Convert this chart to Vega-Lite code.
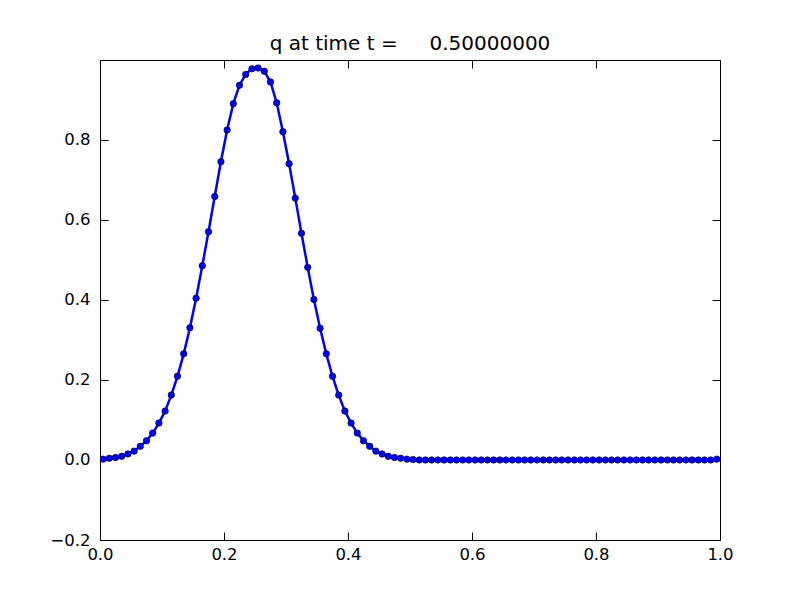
{
  "$schema": "https://vega.github.io/schema/vega-lite/v6.json",
  "width": 620,
  "height": 480,
  "autosize": "none",
  "padding": {"left": 100, "top": 60, "right": 80, "bottom": 60},
  "background": "white",
  "config": {
    "view": {"stroke": "black", "strokeWidth": 1},
    "font": "DejaVu Sans"
  },
  "title": {
    "text": "q at time t =\u00a0\u00a0\u00a0\u00a0\u00a00.50000000",
    "font": "DejaVu Sans",
    "fontSize": 20,
    "fontWeight": "normal",
    "color": "black",
    "anchor": "middle",
    "offset": 6
  },
  "data": {
    "values": [
      {"x": 0.005, "q": 0.002}, {"x": 0.015, "q": 0.004}, {"x": 0.025, "q": 0.006}, {"x": 0.035, "q": 0.009},
      {"x": 0.045, "q": 0.015}, {"x": 0.055, "q": 0.022}, {"x": 0.065, "q": 0.034}, {"x": 0.075, "q": 0.048},
      {"x": 0.085, "q": 0.067}, {"x": 0.095, "q": 0.092}, {"x": 0.105, "q": 0.122}, {"x": 0.115, "q": 0.162},
      {"x": 0.125, "q": 0.209}, {"x": 0.135, "q": 0.265}, {"x": 0.145, "q": 0.330}, {"x": 0.155, "q": 0.404},
      {"x": 0.165, "q": 0.485}, {"x": 0.175, "q": 0.570}, {"x": 0.185, "q": 0.658}, {"x": 0.195, "q": 0.745},
      {"x": 0.205, "q": 0.824}, {"x": 0.215, "q": 0.890}, {"x": 0.225, "q": 0.936}, {"x": 0.235, "q": 0.963},
      {"x": 0.245, "q": 0.977}, {"x": 0.255, "q": 0.979}, {"x": 0.265, "q": 0.971}, {"x": 0.275, "q": 0.944},
      {"x": 0.285, "q": 0.892}, {"x": 0.295, "q": 0.820}, {"x": 0.305, "q": 0.740}, {"x": 0.315, "q": 0.654},
      {"x": 0.325, "q": 0.566}, {"x": 0.335, "q": 0.481}, {"x": 0.345, "q": 0.401}, {"x": 0.355, "q": 0.329},
      {"x": 0.365, "q": 0.265}, {"x": 0.375, "q": 0.209}, {"x": 0.385, "q": 0.162}, {"x": 0.395, "q": 0.122},
      {"x": 0.405, "q": 0.092}, {"x": 0.415, "q": 0.067}, {"x": 0.425, "q": 0.048}, {"x": 0.435, "q": 0.034},
      {"x": 0.445, "q": 0.022}, {"x": 0.455, "q": 0.015}, {"x": 0.465, "q": 0.009}, {"x": 0.475, "q": 0.006},
      {"x": 0.485, "q": 0.004}, {"x": 0.495, "q": 0.002}, {"x": 0.505, "q": 0.001}, {"x": 0.515, "q": 0.0},
      {"x": 0.525, "q": 0.0}, {"x": 0.535, "q": 0.0}, {"x": 0.545, "q": 0.0}, {"x": 0.555, "q": 0.0},
      {"x": 0.565, "q": 0.0}, {"x": 0.575, "q": 0.0}, {"x": 0.585, "q": 0.0}, {"x": 0.595, "q": 0.0},
      {"x": 0.605, "q": 0.0}, {"x": 0.615, "q": 0.0}, {"x": 0.625, "q": 0.0}, {"x": 0.635, "q": 0.0},
      {"x": 0.645, "q": 0.0}, {"x": 0.655, "q": 0.0}, {"x": 0.665, "q": 0.0}, {"x": 0.675, "q": 0.0},
      {"x": 0.685, "q": 0.0}, {"x": 0.695, "q": 0.0}, {"x": 0.705, "q": 0.0}, {"x": 0.715, "q": 0.0},
      {"x": 0.725, "q": 0.0}, {"x": 0.735, "q": 0.0}, {"x": 0.745, "q": 0.0}, {"x": 0.755, "q": 0.0},
      {"x": 0.765, "q": 0.0}, {"x": 0.775, "q": 0.0}, {"x": 0.785, "q": 0.0}, {"x": 0.795, "q": 0.0},
      {"x": 0.805, "q": 0.0}, {"x": 0.815, "q": 0.0}, {"x": 0.825, "q": 0.0}, {"x": 0.835, "q": 0.0},
      {"x": 0.845, "q": 0.0}, {"x": 0.855, "q": 0.0}, {"x": 0.865, "q": 0.0}, {"x": 0.875, "q": 0.0},
      {"x": 0.885, "q": 0.0}, {"x": 0.895, "q": 0.0}, {"x": 0.905, "q": 0.0}, {"x": 0.915, "q": 0.0},
      {"x": 0.925, "q": 0.0}, {"x": 0.935, "q": 0.0}, {"x": 0.945, "q": 0.0}, {"x": 0.955, "q": 0.0},
      {"x": 0.965, "q": 0.0}, {"x": 0.975, "q": 0.0}, {"x": 0.985, "q": 0.0}, {"x": 0.995, "q": 0.002}
    ]
  },
  "encoding": {
    "x": {
      "field": "x", "type": "quantitative",
      "scale": {"domain": [0, 1], "nice": false, "zero": false}
    },
    "y": {
      "field": "q", "type": "quantitative",
      "scale": {"domain": [-0.2, 0.999], "nice": false, "zero": false}
    }
  },
  "layer": [
    {
      "mark": {"type": "line", "color": "#0000ff", "strokeWidth": 2.5, "clip": true},
      "encoding": {
        "x": {
          "field": "x", "type": "quantitative",
          "axis": {
            "orient": "bottom", "title": null, "grid": false, "values": [0, 0.2, 0.4, 0.6, 0.8, 1.0],
            "format": ".1f", "tickSize": -8, "tickColor": "black", "domain": false,
            "labelFont": "DejaVu Sans", "labelFontSize": 16.5, "labelColor": "black", "labelPadding": 14,
            "labelFlush": false, "labelOverlap": false
          }
        },
        "y": {
          "field": "q", "type": "quantitative",
          "axis": {
            "orient": "left", "title": null, "grid": false, "values": [-0.2, 0, 0.2, 0.4, 0.6, 0.8],
            "format": ".1f", "tickSize": -8, "tickColor": "black", "domain": false,
            "labelFont": "DejaVu Sans", "labelFontSize": 16.5, "labelColor": "black", "labelPadding": 18,
            "labelFlush": false, "labelOverlap": false
          }
        }
      }
    },
    {
      "mark": {"type": "point", "filled": true, "fill": "#0000ff", "stroke": "black", "strokeWidth": 0.6, "size": 42, "opacity": 1, "clip": true},
      "encoding": {
        "x": {
          "field": "x", "type": "quantitative",
          "axis": {
            "orient": "top", "title": null, "grid": false, "values": [0, 0.2, 0.4, 0.6, 0.8, 1.0],
            "labels": false, "tickSize": -8, "tickColor": "black", "domain": false
          }
        },
        "y": {
          "field": "q", "type": "quantitative",
          "axis": {
            "orient": "right", "title": null, "grid": false, "values": [-0.2, 0, 0.2, 0.4, 0.6, 0.8],
            "labels": false, "tickSize": -8, "tickColor": "black", "domain": false
          }
        }
      }
    }
  ],
  "resolve": {"axis": {"x": "independent", "y": "independent"}}
}
